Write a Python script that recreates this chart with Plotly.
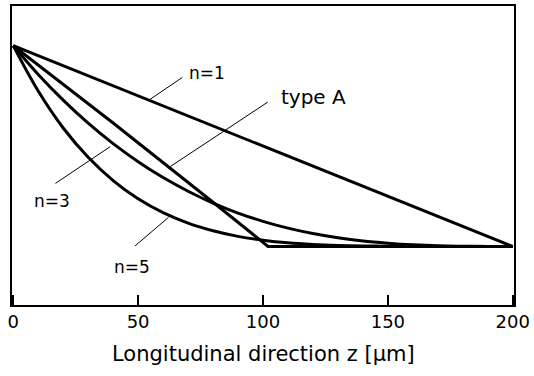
import plotly.graph_objects as go

# ---- data (normalised amplitude, 1 = start, 0 = floor) ----
z_n1 = [0, 50, 100, 150, 200]
v_n1 = [1.0, 0.75, 0.50, 0.25, 0.0]

z_typeA = [0, 40, 80, 102, 200]
v_typeA = [1.0, 0.615, 0.22, 0.0, 0.0]

z_curve = [0, 10, 20, 30, 40, 50, 60, 70, 80, 90, 100, 110, 120, 130, 140, 150, 160, 170, 180, 190, 200]
v_n3 = [1.0, 0.857, 0.729, 0.614, 0.512, 0.422, 0.343, 0.275, 0.216, 0.166, 0.125,
        0.091, 0.064, 0.043, 0.027, 0.016, 0.008, 0.003, 0.001, 0.0, 0.0]
v_n5 = [1.0, 0.774, 0.590, 0.444, 0.328, 0.237, 0.168, 0.116, 0.078, 0.050, 0.031,
        0.018, 0.010, 0.005, 0.002, 0.001, 0.0, 0.0, 0.0, 0.0, 0.0]

x_ticks = [0, 50, 100, 150, 200]
x_title = "Longitudinal direction z [\u03bcm]"

# labels and their leader lines (data coordinates)
label_text = ["n=1", "type A", "n=3", "n=5"]
label_x = [77.4, 120.1, 15.7, 47.7]
label_y = [0.863, 0.743, 0.224, -0.105]
label_size = [17, 20, 17, 17]
leader_x0 = [54.2, 62.9, 16.9, 48.8]
leader_y0 = [0.728, 0.398, 0.314, 0.003]
leader_x1 = [67.7, 101.9, 38.8, 62.2]
leader_y1 = [0.842, 0.719, 0.497, 0.145]

FONT = "DejaVu Sans"
line_style = dict(color="black", width=3)

fig = go.Figure()
fig.add_trace(go.Scatter(x=z_n1, y=v_n1, mode="lines", line=line_style))
fig.add_trace(go.Scatter(x=z_typeA, y=v_typeA, mode="lines", line=line_style))
fig.add_trace(go.Scatter(x=z_curve, y=v_n3, mode="lines", line=dict(color="black", width=3, shape="spline")))
fig.add_trace(go.Scatter(x=z_curve, y=v_n5, mode="lines", line=dict(color="black", width=3, shape="spline")))

for i in range(len(label_text)):
    fig.add_shape(type="line", xref="x", yref="y",
                  x0=leader_x0[i], y0=leader_y0[i], x1=leader_x1[i], y1=leader_y1[i],
                  line=dict(color="black", width=1))
    fig.add_annotation(x=label_x[i], y=label_y[i], xref="x", yref="y", text=label_text[i],
                       showarrow=False, xanchor="center", yanchor="middle",
                       font=dict(family=FONT, size=label_size[i], color="black"))

fig.add_annotation(x=0.5, y=-0.163, xref="paper", yref="paper", text=x_title,
                   showarrow=False, xanchor="center", yanchor="middle",
                   font=dict(family=FONT, size=21, color="black"))

fig.update_layout(
    width=534, height=376,
    margin=dict(l=12, r=17, t=4, b=71),
    paper_bgcolor="white", plot_bgcolor="white",
    showlegend=False,
    font=dict(family=FONT, size=17, color="black"),
)
fig.update_xaxes(range=[-0.5, 200.5], tickvals=x_ticks, ticks="inside", ticklen=10,
                 tickwidth=1.5, tickcolor="black", showline=True, linecolor="black",
                 linewidth=1.5, mirror=True, showgrid=False, zeroline=False,
                 tickfont=dict(family=FONT, size=18, color="black"))
fig.update_yaxes(range=[-0.292, 1.198], showticklabels=False, ticks="",
                 showline=True, linecolor="black", linewidth=1.5, mirror=True,
                 showgrid=False, zeroline=False)

fig.write_html("out.html")
